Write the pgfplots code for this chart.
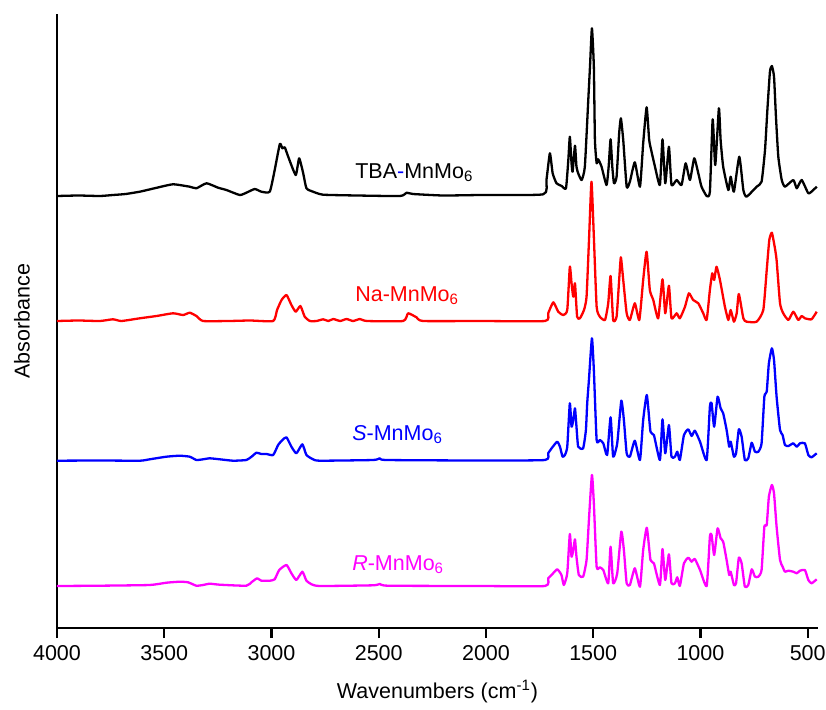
\documentclass[border=0pt]{standalone}
\usepackage{pgfplots}
\pgfplotsset{compat=1.18}
\usepackage{fontspec}
\setmainfont{Liberation Sans}
\definecolor{cred}{RGB}{255,0,0}
\definecolor{cblue}{RGB}{0,0,255}
\definecolor{cmag}{RGB}{255,0,255}
\begin{document}
\fontsize{10.75}{13}\selectfont
\begin{tikzpicture}
\begin{axis}[
  width=380.5pt, height=307pt, scale only axis,
  x dir=reverse, xmin=452, xmax=4000, ymin=0, ymax=614,
  axis x line=bottom, axis y line=left,
  axis line style={-, line width=1.1pt, black},
  xtick={500,1000,...,4000}, ytick=\empty,
  tick align=outside, major tick length=5pt,
  tick style={line width=1.1pt, black},
  /pgf/number format/assume math mode=true,
  /pgf/number format/1000 sep={},
  xticklabel style={font=\fontsize{10.75}{13}\selectfont},
  xlabel={Wavenumbers (cm\textsuperscript{-1})},
  ylabel={Absorbance},
  label style={font=\fontsize{10.75}{13}\selectfont},
  xlabel style={at={(axis description cs:0.5,-0.104)}, anchor=center},
  ylabel style={at={(axis description cs:-0.046,0.5)}, anchor=center},
  every axis plot/.append style={line width=1.15pt, line join=round, smooth, tension=0.3},
]
% TBA-MnMo6 (black)
\addplot[black] coordinates {
(4000,432)(3900,432.5)(3800,432)(3739,433)(3680,434)(3614,436.3)(3540,440)(3459,443.7)(3381,441.3)(3350,439.7)(3303,444.7)(3249,440.3)(3210,438)(3148,433)(3117,435.3)(3078,439)(3047,436.3)(3008,436.3)(2985,458)(2961,484)(2949,479.7)(2938,480.7)(2922,471.3)(2887,453)(2871,469.7)(2852,454.7)(2837,439.7)(2806,436.3)(2759,433.3)(2600,432.5)(2400,432)(2370,435.3)(2340,434)(2200,432.5)(2028,433)
(1733,433.7)(1718,448)(1702,474.7)(1689,454.7)(1671,444.7)(1647,442)(1627,439.7)(1616,468)(1609,491.3)(1601,464.7)(1596,456.3)(1585,482.3)(1578,461.3)(1570,454.7)(1554,448)(1539,461.3)(1523,528)(1515,561.3)(1506,599.7)(1497,561.3)(1492,488)(1484,464.7)(1477,468.7)(1461,461.3)(1438,443)(1428,461.3)(1419,488.7)(1411,461.3)(1403,444.7)(1391,451.3)(1379,494.7)(1371,509.7)(1360,488)(1344,441.3)(1329,446.3)(1306,465.7)(1282,441.3)(1267,484.7)(1251,520.7)(1239,488)(1228,476.3)(1212,461.3)(1189,443)(1177,488.7)(1164,444.7)(1147,481.3)(1135,443)(1111,448)(1088,443)(1069,464.7)(1049,448)(1029,469.7)(1010,454.7)(995,441.3)(971,432)(956,436.3)(943,508.7)(931,463)(914,519.7)(906,488)(894,461.3)(870,438)(859,451.3)(844,436.3)(819,471.3)(800,438)(785,431.3)(738,441.3)(715,446.3)(699,478)(688,518)(676,556.3)(667,562)(657,551.3)(648,511.3)(637,471.3)(621,448)(606,441.3)(567,448)(551,439.7)(528,448)(497,434.7)(474,438)(458,441.3)
};
% Na-MnMo6 (red)
\addplot[cred] coordinates {
(4000,307)(3900,307.5)(3800,307)(3739,308.7)(3700,307)(3614,309.7)(3536,312)(3459,314.7)(3412,313)(3381,315.3)(3350,312)(3319,307)(3200,307)(3100,307.5)(2992,307)(2974,318)(2953,328)(2930,333)(2907,323)(2887,316.3)(2865,322)(2845,311.3)(2821,307)(2790,307)(2759,308.7)(2735,307)(2712,309)(2680,307)(2650,309)(2620,307)(2588,309)(2555,307)(2386,307)(2363,314.7)(2324,310.7)(2293,307)(2028,307)
(1725,307)(1710,314.7)(1686,325.7)(1663,316.3)(1640,313)(1621,318)(1609,361.3)(1601,344.7)(1593,331.3)(1585,344.7)(1575,311.3)(1562,309.7)(1543,318)(1531,331.3)(1519,391.3)(1508,446.3)(1497,391.3)(1484,321.3)(1469,311.3)(1445,308)(1430,324.7)(1419,352)(1407,308)(1391,311.3)(1379,348)(1371,370.7)(1360,348)(1344,314.7)(1329,308)(1306,324.7)(1285,308)(1267,348)(1251,376.3)(1236,338)(1220,328)(1197,309.7)(1177,348.7)(1164,314.7)(1147,342.3)(1135,309.7)(1111,314.7)(1096,309.7)(1072,321.3)(1054,334.7)(1034,328)(1010,324.7)(987,314.7)(971,308)(956,338)(945,354.7)(936,348)(925,361.3)(909,348)(886,321.3)(870,308)(859,318)(844,306.3)(831,314.7)(821,334)(800,309.7)(785,306.3)(738,306.3)(707,318)(691,358)(679,388)(667,395.3)(654,381.3)(645,368)(629,324.7)(614,314.7)(590,308)(567,316.3)(544,308)(528,312)(513,309.7)(482,308.7)(458,316.3)
};
% S-MnMo6 (blue)
\addplot[cblue] coordinates {
(4000,167.3)(3800,167.5)(3614,167.3)(3568,168.7)(3490,171.3)(3428,172.3)(3381,171.3)(3350,168)(3319,168.7)(3288,169.7)(3241,168.7)(3179,167.3)(3117,168)(3093,171.3)(3070,175.3)(3047,174)(3023,174)(2992,173)(2969,183)(2949,188)(2930,190.7)(2907,181.3)(2884,174.7)(2856,183.7)(2837,173)(2806,168.7)(2775,167.3)(2526,168)(2495,169.7)(2464,168)(2028,167.5)
(1725,168)(1710,174.7)(1694,179.7)(1668,186.3)(1655,181.3)(1643,171.3)(1632,173)(1621,181.3)(1609,224.7)(1601,201.3)(1593,208)(1585,219.7)(1578,201.3)(1570,181.3)(1547,179.7)(1534,198)(1528,224.7)(1520,248)(1506,289.7)(1497,258)(1484,188)(1469,188)(1453,184.7)(1435,173)(1419,210.7)(1407,171.3)(1388,184.7)(1369,227.3)(1357,208)(1344,174.7)(1329,171.3)(1306,187.3)(1282,168)(1267,208)(1250,233)(1233,196.3)(1217,193)(1189,168)(1177,208.7)(1164,174.7)(1147,203)(1135,171.3)(1119,171.3)(1108,176.3)(1096,168)(1077,193)(1057,198.7)(1041,192)(1026,197.3)(1002,186.3)(971,168)(956,221.3)(948,224.7)(936,201.3)(920,231.3)(906,219.7)(894,214.7)(878,198)(866,181.3)(859,186.3)(844,171.3)(834,174.7)(821,198.7)(808,191.3)(793,168)(777,169.7)(761,185.3)(746,176.3)(730,176.3)(715,184.7)(702,231.3)(691,236.3)(681,264.7)(667,279.7)(657,268)(645,231.3)(629,198)(617,193)(606,183)(590,182)(567,184.7)(551,181.3)(536,184.7)(513,184.7)(497,173)(482,170.7)(458,174.7)
};
% R-MnMo6 (magenta)
\addplot[cmag] coordinates {
(4000,42)(3800,42.3)(3568,43)(3490,45.3)(3428,46.3)(3389,45.7)(3350,42.3)(3319,43)(3288,44.3)(3241,43.3)(3117,42.3)(3090,46.3)(3067,49.7)(3047,47.3)(3008,47.3)(2985,48.7)(2964,58)(2930,63)(2907,54.7)(2884,48)(2856,56.3)(2837,47.3)(2813,43.7)(2775,42)(2526,42.7)(2495,44)(2456,42.3)(2028,42)
(1725,42)(1710,49.7)(1694,53)(1668,58.7)(1648,53)(1637,43)(1621,54.7)(1609,94)(1601,71.3)(1593,78)(1585,88.7)(1578,71.3)(1567,53)(1547,51.3)(1531,68)(1520,108)(1506,153)(1497,124.7)(1484,61.3)(1469,60.7)(1453,58)(1430,44.7)(1419,81.3)(1407,44.7)(1388,54.7)(1369,96.3)(1357,78)(1344,44.7)(1329,43)(1306,59.7)(1282,41.3)(1267,78)(1250,100.3)(1233,68)(1217,64.7)(1189,43)(1177,79)(1164,48)(1147,73.7)(1135,44.7)(1119,44.7)(1108,50.7)(1096,42)(1077,64.7)(1057,70.3)(1041,66.3)(1026,69)(1002,58)(971,42)(956,91.3)(948,93)(936,73)(920,99.7)(906,89.7)(894,86.3)(878,68)(866,53)(859,56.3)(844,43)(834,44.7)(821,70.3)(808,64.7)(793,41.3)(777,43)(761,58.7)(746,51.3)(730,51.3)(715,58)(702,101.3)(691,103)(681,131.3)(667,143)(657,134.7)(645,101.3)(629,68)(617,61.3)(606,56.3)(590,57.3)(567,56.3)(551,54.7)(536,57.3)(513,58)(497,48)(482,44.7)(458,48.7)
};
\node[anchor=mid west, inner sep=0pt] at (axis cs:2611,455) {TBA{\color{cblue}-}MnMo\textsubscript{6}};
\node[anchor=mid west, inner sep=0pt, text=cred] at (axis cs:2611,332) {Na-MnMo\textsubscript{6}};
\node[anchor=mid west, inner sep=0pt, text=cblue] at (axis cs:2625,193) {\textit{S}-MnMo\textsubscript{6}};
\node[anchor=mid west, inner sep=0pt, text=cmag] at (axis cs:2625,63) {\textit{R}-MnMo\textsubscript{6}};
\end{axis}
\pgfresetboundingbox
\path[use as bounding box] ([xshift=-28.5pt,yshift=-40.5pt]current axis.south west) rectangle ([xshift=4pt,yshift=7pt]current axis.north east);
\end{tikzpicture}
\end{document}
